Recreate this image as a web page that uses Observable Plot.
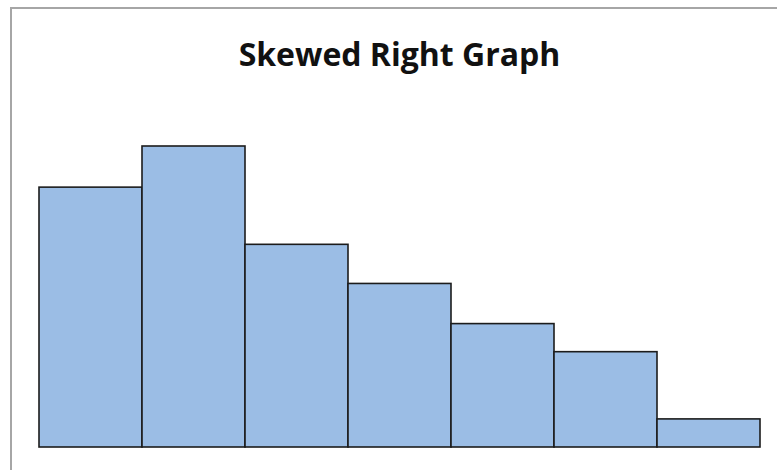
<!DOCTYPE html>
<html>
<head>
<meta charset="utf-8">
<script src="https://cdn.jsdelivr.net/npm/d3@7"></script>
<script src="https://cdn.jsdelivr.net/npm/@observablehq/plot@0.6"></script>
<style>
  html, body { margin: 0; padding: 0; background: #fff; overflow: hidden; }
  #wrap { position: relative; width: 777px; height: 470px; overflow: hidden; }
  #frame { position: absolute; left: 10px; top: 7px; width: 800px; height: 500px;
           border-left: 2px solid #a6a6a6; border-top: 2px solid #a6a6a6; box-sizing: border-box; }
  #title { position: relative; height: 120px; width: 777px; text-align: center;
           font-family: "Open Sans", sans-serif; font-weight: 700; font-size: 32px;
           line-height: 32px; padding-top: 38px; padding-left: 22px; box-sizing: border-box; color: #111; letter-spacing: 0px; }
  #chart { position: relative; }
</style>
</head>
<body>
<div id="wrap">
  <div id="frame"></div>
  <div id="title">Skewed Right Graph</div>
  <div id="chart"></div>
</div>
<script>
const binStarts = [0, 1, 2, 3, 4, 5, 6];
const binEnds   = [1, 2, 3, 4, 5, 6, 7];
const counts    = [25.9, 30, 20.2, 16.3, 12.3, 9.5, 2.8];

const data = binStarts.map((s, i) => ({x1: s, x2: binEnds[i], y: counts[i]}));

const plot = Plot.plot({
  width: 777,
  height: 350,
  marginTop: 26,
  marginBottom: 23,
  marginLeft: 39,
  marginRight: 17,
  x: {domain: [0, 7], axis: null},
  y: {domain: [0, 30], axis: null},
  marks: [
    Plot.rectY(data, {x1: "x1", x2: "x2", y: "y", fill: "#9bbde5", stroke: "#1c1c1c", strokeWidth: 1.6, inset: 0})
  ]
});
plot.style.background = "transparent";
document.getElementById("chart").appendChild(plot);
</script>
</body>
</html>
